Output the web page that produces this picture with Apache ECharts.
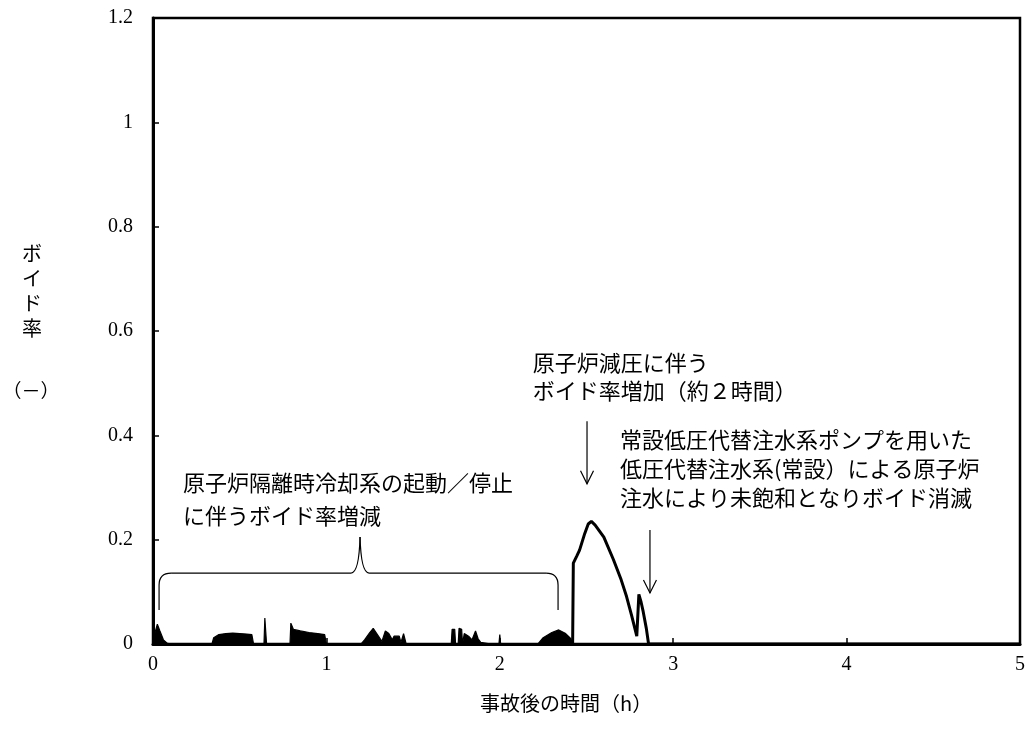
<!DOCTYPE html>
<html><head><meta charset="utf-8">
<script src="https://cdn.jsdelivr.net/npm/echarts@6/dist/echarts.min.js"></script>
<style>html,body{margin:0;padding:0;background:#fff}#c{width:1031px;height:731px}</style>
</head><body><div id="c"></div>
<script>
// ---- data ----
const xTicks = [0, 1, 2, 3, 4, 5];
const yTicks = [0, 0.2, 0.4, 0.6, 0.8, 1.0, 1.2];
// RCIC start/stop oscillation region (filled envelope)
const blipTimes  = [0,0.01,0.025,0.04,0.06,0.08,0.1,
  0.34,0.35,0.38,0.42,0.46,0.5,0.54,0.57,0.58,
  0.64,0.645,0.655,
  0.79,0.795,0.81,0.85,0.9,0.95,0.99,1.0,
  1.2,1.22,1.25,1.27,1.3,1.32,1.34,1.36,1.38,1.39,1.42,1.43,1.445,1.455,1.46,
  1.72,1.725,1.74,1.745,1.76,1.765,1.78,1.785,1.795,1.82,1.84,1.86,1.875,1.89,1.9,
  1.95,1.96,1.97,1.995,2.0,2.005,
  2.22,2.25,2.3,2.34,2.38,2.41,2.42];
const blipValues = [0,0.02,0.038,0.025,0.008,0.002,0,
  0,0.012,0.018,0.02,0.021,0.02,0.019,0.018,0,
  0,0.05,0,
  0,0.04,0.028,0.025,0.022,0.02,0.018,0,
  0,0.008,0.022,0.03,0.015,0.005,0.025,0.02,0.008,0.015,0.015,0.003,0.02,0.02,0,
  0,0.028,0.028,0,0,0.03,0.028,0,0.02,0.015,0.008,0.025,0.01,0.003,0,
  0,0.003,0,0,0.018,0,
  0,0.012,0.022,0.027,0.02,0.01,0];
// depressurization hump
const humpTimes  = [2.42,2.424,2.443,2.46,2.49,2.51,2.528,2.55,2.6,2.655,2.7,2.731,2.76,2.79,2.796,2.802,2.815,2.827,2.845,2.858,5];
const humpValues = [0,0.155,0.168,0.18,0.212,0.23,0.235,0.228,0.205,0.162,0.123,0.091,0.055,0.015,0.012,0.095,0.08,0.062,0.03,0,0];
// annotations
const noteA = ['原子炉減圧に伴う', 'ボイド率増加（約２時間）'];
const noteB = ['常設低圧代替注水系ポンプを用いた', '低圧代替注水系(常設）による原子炉', '注水により未飽和となりボイド消滅'];
const noteC = ['原子炉隔離時冷却系の起動／停止', 'に伴うボイド率増減'];
const yName = ['ボ','イ','ド','率'];
const yUnit = '（－）';
const xName = '事故後の時間（h）';

const blipData = blipTimes.map((t,i)=>[t, blipValues[i]]);
const humpData = humpTimes.map((t,i)=>[t, humpValues[i]]);

const chart = echarts.init(document.getElementById('c'));
const numFont = 'Liberation Serif';
const jpFont = 'Noto Sans CJK JP';
function yFmt(v) {
  const t = yTicks.find(y => Math.abs(y - v) < 1e-6);
  if (t === undefined) return '';
  if (t === 0) return '0';
  if (Math.abs(t - 1) < 1e-6) return '1';
  return t.toFixed(1);
}
chart.setOption({
  animation: false,
  backgroundColor: '#fff',
  grid: {left: 153, right: 11, top: 18, bottom: 87, show: true, borderColor: '#000', borderWidth: 2.5},
  xAxis: {
    type: 'value', min: 0, max: 5, interval: 1,
    axisLine: {show: true, lineStyle: {color: '#000', width: 3}},
    axisTick: {show: true, inside: true, length: 6, lineStyle: {color: '#000', width: 1.5}},
    axisLabel: {color: '#000', fontFamily: numFont, fontSize: 20, margin: 11,
      formatter: v => xTicks.includes(v) ? String(v) : ''},
    splitLine: {show: false}
  },
  yAxis: {
    type: 'value', min: 0, max: 1.2, interval: 0.2,
    axisLine: {show: true, lineStyle: {color: '#000', width: 3}},
    axisTick: {show: true, inside: true, length: 6, lineStyle: {color: '#000', width: 1.5}},
    axisLabel: {color: '#000', fontFamily: numFont, fontSize: 20, margin: 20, formatter: yFmt},
    splitLine: {show: false}
  },
  series: [
    {type: 'line', data: blipData, showSymbol: false, symbol: 'none',
     lineStyle: {color: '#000', width: 1.2}, areaStyle: {color: '#000', opacity: 1}, z: 3},
    {type: 'line', data: humpData, showSymbol: false, symbol: 'none',
     lineStyle: {color: '#000', width: 3}, z: 4}
  ]
});

function px(t, v) { return chart.convertToPixel({gridIndex: 0}, [t, v]); }
const g = [];
const thin = {stroke: '#000', lineWidth: 1.2, fill: null};
function textAt(t, v, s, size) {
  const p = px(t, v);
  g.push({type: 'text', x: p[0], y: p[1], style: {text: s, fill: '#000', font: size + 'px "' + jpFont + '"', align: 'left', verticalAlign: 'middle'}});
}
function seg(x1, y1, x2, y2) { g.push({type: 'line', shape: {x1, y1, x2, y2}, style: thin}); }
function curve(x1, y1, cx, cy, x2, y2) { g.push({type: 'bezierCurve', shape: {x1, y1, cpx1: cx, cpy1: cy, x2, y2}, style: thin}); }
function arrow(t, v1, v2) {
  const a = px(t, v1), b = px(t, v2);
  seg(a[0], a[1], b[0], b[1]);
  g.push({type: 'polyline', shape: {points: [[b[0]-6.5, b[1]-13], [b[0], b[1]], [b[0]+6.5, b[1]-13]]}, style: thin});
}
textAt(2.19, 0.54, noteA[0], 22);
textAt(2.19, 0.485, noteA[1], 22);
arrow(2.503, 0.427, 0.307);
textAt(2.693, 0.391, noteB[0], 22);
textAt(2.693, 0.336, noteB[1], 22);
textAt(2.693, 0.281, noteB[2], 22);
arrow(2.866, 0.2185, 0.0978);
textAt(0.173, 0.3086, noteC[0], 22);
textAt(0.173, 0.247, noteC[1], 22);
// curly brace
(function(){
  const L = px(0.035, 0.065), R = px(2.336, 0.065), T = px(1.194, 0.205), H = px(0, 0.136);
  const x0 = L[0], x1 = R[0], yb = L[1], yt = H[1], xm = T[0], ytip = T[1];
  seg(x0, yb, x0, yt + 12);
  curve(x0, yt + 12, x0, yt, x0 + 12, yt);
  seg(x0 + 12, yt, xm - 9, yt);
  curve(xm - 9, yt, xm - 1, yt, xm, ytip);
  curve(xm, ytip, xm + 1, yt, xm + 9, yt);
  seg(xm + 9, yt, x1 - 12, yt);
  curve(x1 - 12, yt, x1, yt, x1, yt + 12);
  seg(x1, yt + 12, x1, yb);
})();
yName.forEach((c, i) => {
  g.push({type: 'text', x: 32, y: 253 + i * 25, style: {text: c, fill: '#000', font: '20px "' + jpFont + '"', align: 'center', verticalAlign: 'middle'}});
});
g.push({type: 'text', x: 31, y: 391, style: {text: yUnit, fill: '#000', font: '19px "' + jpFont + '"', align: 'center', verticalAlign: 'middle'}});
g.push({type: 'text', x: 480, y: 703, style: {text: xName, fill: '#000', font: '20px "' + jpFont + '"', align: 'left', verticalAlign: 'middle'}});
chart.setOption({graphic: g});
</script></body></html>
